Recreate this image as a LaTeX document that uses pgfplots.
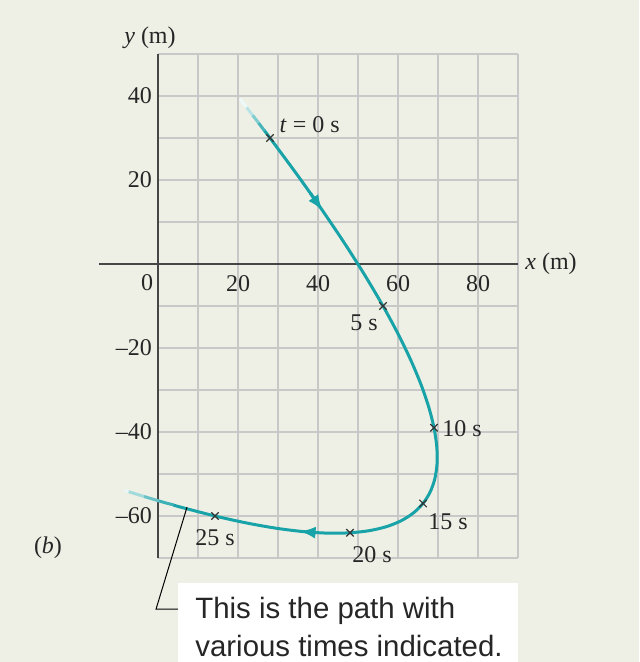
\documentclass[border=0pt]{standalone}
\usepackage{pgfplots}
\pgfplotsset{compat=1.18}
\usepackage{fontspec}
\setmainfont{Liberation Serif}
\newfontfamily\calloutfont{Liberation Sans}
\usetikzlibrary{arrows.meta}

\definecolor{paper}{RGB}{239,240,229}
\definecolor{track}{RGB}{24,163,168}
\definecolor{gridgray}{RGB}{200,200,200}
\definecolor{axisgray}{RGB}{70,70,70}

\newcommand{\lab}{\fontsize{12}{14}\selectfont}

\begin{document}
\begin{tikzpicture}
% page background (axis box lower-left sits at the origin)
\fill[paper] (-79pt,-52pt) rectangle (240.5pt,279pt);
\fill[white] (10pt,-52pt) rectangle (180pt,-12.5pt);

\begin{axis}[
  at={(0pt,0pt)}, anchor=south west,
  scale only axis,
  width=180pt, height=252pt,
  xmin=0, xmax=90, ymin=-70, ymax=50,
  axis x line=middle, axis y line=left,
  axis line style={draw=none},
  clip=false,
  xtick={0,10,...,90},
  ytick={-70,-60,...,50},
  xticklabels={{},{},20,{},40,{},60,{},80,{}},
  yticklabels={{},--60,{},--40,{},--20,{},{},{},20,{},40,{}},
  major tick length=0pt,
  grid=major,
  major grid style={gridgray, line width=0.75pt},
  tick label style={font=\lab, text=black!85},
  xticklabel style={yshift=-2pt},
  yticklabel style={xshift=0.5pt},
]
% axis lines
\draw[axisgray, line width=1pt] (axis cs:-14.75,0) -- (axis cs:90,0);
\draw[axisgray, line width=1pt] (axis cs:0,-70) -- (axis cs:0,50);

% path of the particle, t = -0.2 ... 26.2 s
\addplot[track, line width=1.5pt, smooth, line cap=butt] coordinates {
  (26.55,31.83) (28,30) (34.89,21.12) (41.16,12.68) (46.81,4.68)
  (51.84,-2.88) (56.25,-10) (60.04,-16.68) (63.21,-22.92) (65.76,-28.72)
  (67.69,-34.08) (69,-39) (69.69,-43.48) (69.76,-47.52) (69.21,-51.12)
  (68.04,-54.28) (66.25,-57) (63.84,-59.28) (60.81,-61.12) (57.16,-62.52)
  (52.89,-63.48) (48,-64) (42.49,-64.08) (36.36,-63.72) (29.61,-62.92)
  (22.24,-61.68) (14.25,-60) (5.64,-57.88) (3.84,-57.40)
};
% faded ends of the path
\addplot[track!80!white, line width=1.5pt] coordinates {(25.07,33.68) (26.65,31.70)};
\addplot[track!55!white, line width=1.5pt] coordinates {(23.57,35.54) (25.17,33.55)};
\addplot[track!30!white, line width=1.5pt] coordinates {(22.04,37.42) (23.67,35.41)};
\addplot[track!8!white, line width=1.5pt] coordinates {(20.49,39.32) (22.14,37.29)};
\addplot[track!85!white, line width=1.5pt] coordinates {(3.94,-57.37) (2.02,-56.91) (0.18,-56.40)};
\addplot[track!65!white, line width=1.5pt] coordinates {(0.28,-56.43) (-1.69,-55.87) (-3.59,-55.32)};
\addplot[track!40!white, line width=1.5pt] coordinates {(-3.49,-55.35) (-5.51,-54.76) (-7.46,-54.17)};
\addplot[track!10!white, line width=1.5pt] coordinates {(-7.36,-54.20) (-8.44,-53.88)};

% direction arrows
\addplot[track, line width=1.5pt, -{Latex[length=8pt,width=6pt]}]
  coordinates {(38.10,16.85) (41.16,12.68)};
\addplot[track, line width=1.5pt, -{Latex[length=8pt,width=6pt]}]
  coordinates {(38.89,-63.92) (35.39,-63.63)};

% positions every 5 s
\addplot[only marks, mark=x, mark size=2.6pt, black!80, line width=0.6pt] coordinates {
  (28,30) (56.25,-10) (69,-39) (66.25,-57) (48,-64) (14.25,-60)
};

% time labels
\begin{scope}[every node/.style={font=\lab, text=black!85}]
\node[anchor=west, inner sep=0pt] at (axis cs:30.3,33.1) {\textit{t} = 0 s};
\node at (axis cs:51.5,-14.1) {5 s};
\node at (axis cs:76,-39.1) {10 s};
\node at (axis cs:72.5,-61.4) {15 s};
\node at (axis cs:53.5,-69.3) {20 s};
\node at (axis cs:14.25,-65.2) {25 s};

% axis labels
\node at (axis cs:-2.75,-4.5) {0};
\node[anchor=west, inner sep=0pt] at (axis cs:91.75,0) {\textit{x} (m)};
\node at (axis cs:-2,53.8) {\textit{y} (m)};
\node at (axis cs:-27.5,-67.6) {(\textit{b})};
\end{scope}

% callout
\draw[black, line width=0.5pt] (axis cs:7.25,-57.9) -- (axis cs:-0.5,-82.2) -- (axis cs:5,-82.2);
\node[anchor=base west, inner sep=0pt, font=\calloutfont\fontsize{14.7}{19}\selectfont, text=black!85]
  at (axis cs:9.25,-84.5) {This is the path with};
\node[anchor=base west, inner sep=0pt, font=\calloutfont\fontsize{14.7}{19}\selectfont, text=black!85]
  at (axis cs:9.25,-93.55) {various times indicated.};
\end{axis}

\pgfresetboundingbox
\useasboundingbox (-79pt,-52pt) rectangle (240.5pt,279pt);
\end{tikzpicture}
\end{document}
